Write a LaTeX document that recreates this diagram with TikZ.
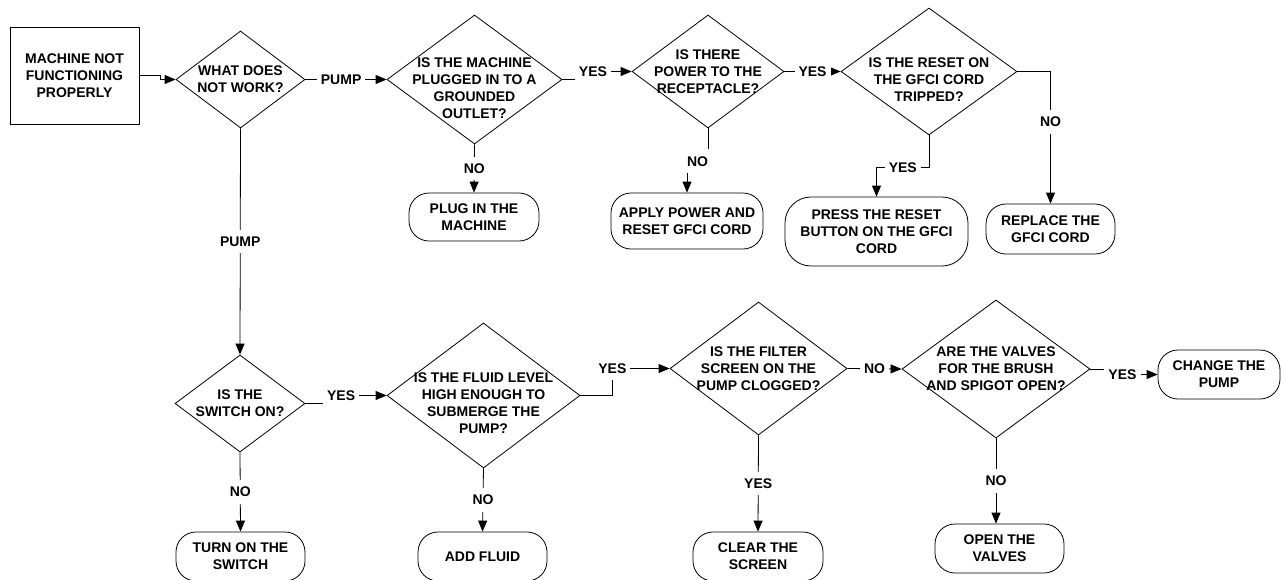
\documentclass[tikz,border=0pt]{standalone}
\usepackage{fontspec}
\setmainfont{Liberation Sans}
\usetikzlibrary{shapes.geometric,arrows.meta}

\begin{document}
\begin{tikzpicture}[
    x=1pt, y=-1pt, line width=0.8pt,
    every node/.style={font=\bfseries\fontsize{14}{17}\selectfont},
    txt/.style={align=center, inner sep=0pt},
    start/.style={draw, txt, minimum width=129pt, minimum height=97pt},
    dec/.style 2 args={diamond, draw, inner sep=0pt, minimum width=#1, minimum height=#2},
    term/.style={draw, txt, rounded corners=20pt, minimum width=129pt, minimum height=49pt},
    lbl/.style={fill=white, inner xsep=4pt, inner ysep=7pt},
    flow/.style={draw, -{Triangle[length=11pt,width=9pt]}}
  ]
  \useasboundingbox (0,0) rectangle (1286,579);
  % Pump checks, upper row.
  \node[start] (start) at (74.5,75.5) {MACHINE NOT\\FUNCTIONING\\PROPERLY};
  \node[dec={129pt}{97pt}, label={[txt]center:WHAT DOES\\NOT WORK?}] (what) at (240.5,79.5) {};
  \node[dec={175pt}{129pt}, label={[txt,yshift=-8.5pt]center:IS THE MACHINE\\PLUGGED IN TO A\\GROUNDED\\OUTLET?}] (plugged) at (474.5,79.5) {};
  \node[dec={152pt}{113pt}, label={[txt]center:IS THERE\\POWER TO THE\\RECEPTACLE?}] (power) at (708,71.5) {};
  \node[dec={176pt}{127pt}, label={[txt,yshift=-8.5pt]center:IS THE RESET ON\\THE GFCI CORD\\TRIPPED?}] (reset) at (929,71.5) {};
  \node[term, minimum width=130pt, minimum height=48pt] (plugin) at (474,217) {PLUG IN THE\\MACHINE};
  \node[term, minimum width=152pt, minimum height=56pt] (apply) at (687,221) {APPLY POWER AND\\RESET GFCI CORD};
  \node[term, minimum width=183pt, minimum height=69pt, rounded corners=26pt] (press) at (876.5,231.5) {PRESS THE RESET\\BUTTON ON THE GFCI\\CORD};
  \node[term, minimum height=50pt] (replace) at (1050.5,229) {REPLACE THE\\GFCI CORD};
  % Pump checks, lower row.
  \node[dec={130pt}{97pt}, label={[txt]center:IS THE\\SWITCH ON?}] (switch) at (240,403.5) {};
  \node[dec={193pt}{145pt}, label={[txt,yshift=-7.5pt]center:IS THE FLUID LEVEL\\HIGH ENOUGH TO\\SUBMERGE THE\\PUMP?}] (fluid) at (483.5,395.5) {};
  \node[dec={177pt}{133pt}, label={[txt]center:IS THE FILTER\\SCREEN ON THE\\PUMP CLOGGED?}] (filter) at (758.5,368.5) {};
  \node[dec={188pt}{138pt}, label={[txt]center:ARE THE VALVES\\FOR THE BRUSH\\AND SPIGOT OPEN?}] (valves) at (996,369) {};
  \node[term, minimum width=122pt] (change) at (1219,374.5) {CHANGE THE\\PUMP};
  \node[term] (turnon) at (240.5,556.5) {TURN ON THE\\SWITCH};
  \node[term] (addfluid) at (482.5,556.5) {ADD FLUID};
  \node[term, minimum width=130pt] (clear) at (758,556.5) {CLEAR THE\\SCREEN};
  \node[term] (open) at (999.5,548.5) {OPEN THE\\VALVES};
  % Connectors.
  \draw[flow] (start.east) -- ++(21,0) |- (what.west);
  \draw[flow] (what.east) -- node[lbl, pos=0.44] {PUMP} (plugged.west);
  \draw[flow] (plugged.east) -- ++(14,0) |- node[lbl, pos=0.65] {YES} (power.west);
  \draw[flow] (power.east) -- node[lbl] {YES} (reset.west);
  \draw[flow] (reset.east) -| node[lbl, pos=0.69] {NO} (replace.north);
  \draw[flow] (reset.south) -- ++(0,32) -| node[lbl, pos=0.25] {YES} (press.north);
  \draw[flow] (plugged.south) -- node[lbl] {NO} (plugin.north);
  \draw[flow] (power.south) -- ++(0,33) -| node[lbl, pos=0.25] {NO} (apply.north);
  \draw[flow] (what.south) -- node[lbl] {PUMP} (switch.north);
  \draw[flow] (switch.east) -- ++(18,0) |- node[lbl, pos=0.64] {YES} (fluid.west);
  \draw[flow] (switch.south) -- node[lbl] {NO} (turnon.north);
  \draw[flow] (fluid.east) -- ++(32,0) |- node[lbl, pos=0.5] {YES} (filter.west);
  \draw[flow] (fluid.south) -- node[lbl] {NO} (addfluid.north);
  \draw[flow] (filter.east) -- node[lbl] {NO} (valves.west);
  \draw[flow] (filter.south) -- node[lbl] {YES} (clear.north);
  \draw[flow] (valves.east) -- ++(14,0) |- node[lbl, pos=0.67] {YES} (change.west);
  \draw[flow] (valves.south) -- node[lbl] {NO} (valves.south |- open.north);
\end{tikzpicture}
\end{document}
